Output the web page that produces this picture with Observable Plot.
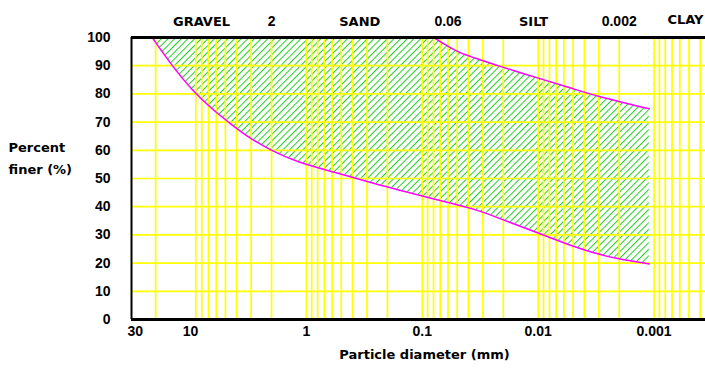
<!DOCTYPE html>
<html>
<head>
<meta charset="utf-8">
<script src="https://cdn.jsdelivr.net/npm/d3@7"></script>
<script src="https://cdn.jsdelivr.net/npm/@observablehq/plot@0.6"></script>
<style>
  html, body { margin: 0; padding: 0; background: #ffffff; }
</style>
</head>
<body>
<div id="chart"></div>
<script>
// ---- data ----
const xTicks = [30, 10, 1, 0.1, 0.01, 0.001];
const yTicks = [0, 10, 20, 30, 40, 50, 60, 70, 80, 90, 100];
const gridDiameters = [20, 9, 8, 7, 6, 5, 4, 3, 2, 1,
  0.9, 0.8, 0.7, 0.6, 0.5, 0.4, 0.3, 0.2, 0.1,
  0.09, 0.08, 0.07, 0.06, 0.05, 0.04, 0.03, 0.02, 0.01,
  0.009, 0.008, 0.007, 0.006, 0.005, 0.004, 0.003, 0.002, 0.001,
  0.0009, 0.0008, 0.0007, 0.0006, 0.0005, 0.0004];
const gridPercents = [10, 20, 30, 40, 50, 60, 70, 80, 90];

// lower envelope (coarse side)
const lowerDiam = [21.4, 14.9, 9.4, 6.3, 4.8, 3.2, 2.0, 1.2, 0.62, 0.20, 0.070, 0.032, 0.0213, 0.0096, 0.0041, 0.0021, 0.0011];
const lowerPct  = [100, 90.7, 80.6, 74.1, 70.3, 64.6, 59.9, 55.8, 52.6, 46.9, 42.2, 38.7, 35.7, 30.4, 24.5, 21.5, 19.7];
// upper envelope (fine side)
const upperDiam = [0.080, 0.050, 0.0386, 0.0213, 0.0096, 0.00496, 0.0029, 0.0011];
const upperPct  = [100, 94.8, 93.3, 89.7, 85.4, 81.8, 78.8, 74.7];

const sizeClasses = ["GRAVEL", "SAND", "SILT", "CLAY"];
const classBounds = [2, 0.06, 0.002];
const boundLabels = ["2", "0.06", "0.002"];

const yTitle = "Percent\nfiner (%)";
const xTitle = "Particle diameter (mm)";

// ---- layout ----
const xDomain = [32.3, 0.00036];
const numFont = "'Liberation Sans', Arial, sans-serif";
const wordFont = "'DejaVu Sans', sans-serif";
const curve = "basis";

const lower = lowerDiam.map((d, i) => ({d, p: lowerPct[i]}));
const upper = upperDiam.map((d, i) => ({d, p: upperPct[i]}));

// class label positions: geometric middle of each class interval
const edges = [xDomain[0], ...classBounds];
const classLabels = sizeClasses.slice(0, 3).map((name, i) => ({name, d: Math.sqrt(edges[i] * edges[i + 1])}));
const bounds = classBounds.map((d, i) => ({d, label: boundLabels[i]}));

const chart = Plot.plot({
  width: 705,
  height: 368,
  marginLeft: 131,
  marginRight: 0,
  marginTop: 37,
  marginBottom: 49,
  style: {background: "#ffffff", fontWeight: "bold", color: "#000"},
  x: {type: "log", domain: xDomain, axis: null},
  y: {domain: [0, 100], axis: null},
  marks: [
    // hatched band: above the lower curve up to 100 %, then masked above the upper curve
    Plot.areaY(lower, {x: "d", y1: "p", y2: 100, curve, fill: "url(#hatch)"}),
    Plot.areaY(upper, {x: "d", y1: "p", y2: 100, curve, fill: "#ffffff"}),
    Plot.ruleX(gridDiameters, {x: d => d, stroke: "#ffff00", strokeWidth: 1.7}),
    Plot.ruleY(gridPercents, {y: d => d, stroke: "#ffff00", strokeWidth: 1.7}),
    Plot.line(lower, {x: "d", y: "p", stroke: "#ff00ff", strokeWidth: 1.5, curve}),
    Plot.line(upper, {x: "d", y: "p", stroke: "#ff00ff", strokeWidth: 1.5, curve}),
    Plot.ruleY([0, 100], {y: d => d, stroke: "#000", strokeWidth: 3}),
    Plot.ruleX([xDomain[0]], {x: d => d, stroke: "#000", strokeWidth: 2}),
    // y tick labels
    Plot.text(yTicks, {y: d => d, frameAnchor: "left", textAnchor: "end", dx: -21,
      text: d => String(d), fontFamily: numFont, fontSize: 14, fontWeight: "bold"}),
    // x tick labels
    Plot.text(xTicks, {x: d => d, frameAnchor: "bottom", lineAnchor: "top", dy: 7,
      text: d => String(d), fontFamily: numFont, fontSize: 14, fontWeight: "bold"}),
    // class boundaries on top
    Plot.text(bounds, {x: "d", frameAnchor: "top", dy: -21, text: "label",
      fontFamily: numFont, fontSize: 14, fontWeight: "bold"}),
    Plot.text(classLabels, {x: "d", frameAnchor: "top", dy: -21, text: "name",
      fontFamily: wordFont, fontSize: 13, fontWeight: "bold"}),
    Plot.text([sizeClasses[3]], {frameAnchor: "top-right", textAnchor: "end", dx: -2, dy: -23,
      text: d => d, fontFamily: wordFont, fontSize: 13, fontWeight: "bold"}),
    // axis titles
    Plot.text([yTitle], {frameAnchor: "left", textAnchor: "start", dx: -123, dy: -22.7,
      lineHeight: 1.75, text: d => d, fontFamily: wordFont, fontSize: 13, fontWeight: "bold"}),
    Plot.text([xTitle], {frameAnchor: "bottom", dx: 6, dy: 39,
      text: d => d, fontFamily: wordFont, fontSize: 13, fontWeight: "bold"})
  ]
});

// hatch pattern definition
const ns = "http://www.w3.org/2000/svg";
const svgEl = chart.tagName.toLowerCase() === "svg" ? chart : chart.querySelector("svg");
const defs = document.createElementNS(ns, "defs");
const pat = document.createElementNS(ns, "pattern");
pat.setAttribute("id", "hatch");
pat.setAttribute("patternUnits", "userSpaceOnUse");
pat.setAttribute("width", "4.7");
pat.setAttribute("height", "4.7");
pat.setAttribute("patternTransform", "rotate(45)");
const ln = document.createElementNS(ns, "line");
ln.setAttribute("x1", "0"); ln.setAttribute("y1", "-1");
ln.setAttribute("x2", "0"); ln.setAttribute("y2", "6");
ln.setAttribute("stroke", "#22d022");
ln.setAttribute("stroke-width", "2");
pat.appendChild(ln);
defs.appendChild(pat);
svgEl.insertBefore(defs, svgEl.firstChild);

document.getElementById("chart").appendChild(chart);
</script>
</body>
</html>
